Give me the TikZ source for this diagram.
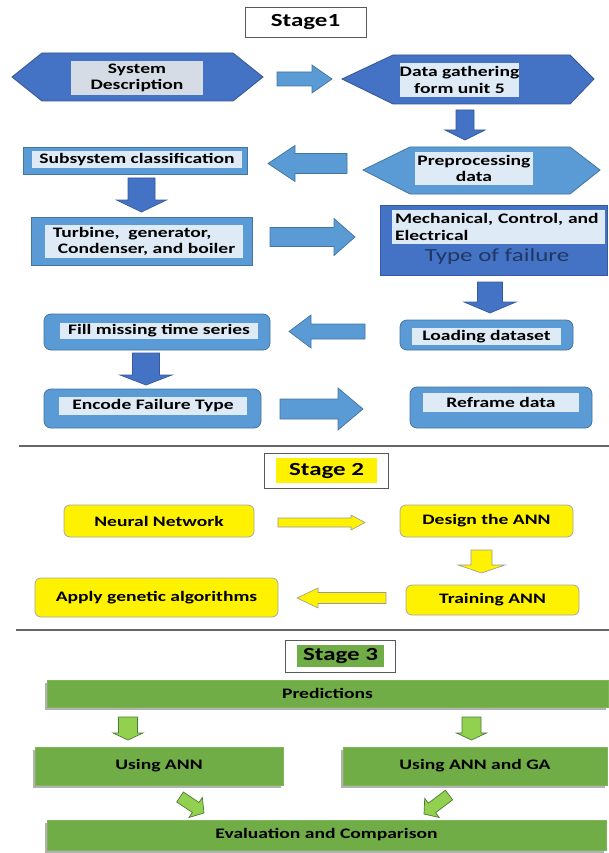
\documentclass[tikz,border=0pt]{standalone}
\usepackage{fontspec}
\setmainfont{Carlito}[FakeStretch=1.35]
\usetikzlibrary{calc,shadows}

\definecolor{hexdark}{HTML}{4472C4}
\definecolor{blight}{HTML}{5B9BD5}
\definecolor{boxin}{HTML}{DEEBF7}
\definecolor{sysin}{HTML}{D6DCE5}
\definecolor{navy}{HTML}{1F3864}
\definecolor{gbox}{HTML}{70AD47}
\definecolor{garrow}{HTML}{92D050}

% block arrow: start, end, shaft half width, head half width, head length, style
\newcommand{\barrow}[6]{%
  \coordinate (bA) at (#1);
  \coordinate (bB) at (#2);
  \coordinate (bH) at ($(bB)!#5pt!(bA)$);
  \draw[#6] ($(bA)!#3pt!90:(bB)$) -- ($(bH)!#3pt!-90:(bA)$) -- ($(bH)!#4pt!-90:(bA)$)
    -- (bB) -- ($(bH)!#4pt!90:(bA)$) -- ($(bH)!#3pt!90:(bA)$) -- ($(bA)!#3pt!-90:(bB)$) -- cycle;
}

\begin{document}
\begin{tikzpicture}
  [x=1pt,y=-1pt,
   every node/.style={inner sep=0pt,align=center,font=\bfseries\fontsize{14.5}{16.5}\selectfont},
   stage/.style={draw=black!65,fill=white,line width=0.9pt,font=\bfseries\fontsize{18.5}{20}\selectfont},
   inbox/.style={fill=boxin},
   bout/.style={fill=blight,draw=blight!75!black,line width=0.8pt},
   rbout/.style={bout,rounded corners=7pt},
   ybox/.style={fill=yellow,draw=black!35,line width=0.8pt,rounded corners=6pt},
   gnode/.style={fill=gbox,draw=gbox!90!white,drop shadow={shadow xshift=-2.5pt,shadow yshift=-2.5pt,fill=black!30,opacity=1}},
   barl/.style={fill=blight,draw=blight!75!black,line width=0.7pt},
   bard/.style={fill=hexdark,draw=hexdark!80!black,line width=0.7pt},
   yarr/.style={fill=yellow,draw=black!40,line width=0.6pt},
   garr/.style={fill=garrow,draw=gbox!70!black,line width=0.7pt},
   sepline/.style={draw=black!60,line width=1.2pt}]
  \useasboundingbox (0,0) rectangle (609,853);

  % stage 1
  \node[stage,minimum width=121pt,minimum height=30pt] (st1) at (305.5,22) {Stage1};

  \foreach \l/\tl/\tr/\r/\t/\m/\b/\c in {12/42/233/263/53/77/101/hexdark,
      342/393/570/594/55/79/104/hexdark, 363/410/570/600/147/170/194/blight}
    \filldraw[fill=\c,draw=\c!75!black,line width=0.8pt]
      (\l,\m) -- (\tl,\t) -- (\tr,\t) -- (\r,\m) -- (\tr,\b) -- (\tl,\b) -- cycle;

  \node[fill=sysin,minimum width=132pt,minimum height=34pt] (sysd) at (137,78) {System\\Description};
  \node[inbox,minimum width=115pt,minimum height=34pt] (datag) at (459.5,80) {Data gathering\\form unit 5};
  \node[inbox,minimum width=118pt,minimum height=33pt] (prep) at (474,168.5) {Preprocessing\\data};

  \node[bout,minimum width=224pt,minimum height=27pt] (subc) at (135,160.5) {};
  \node[inbox,minimum width=210pt,minimum height=17pt] (subc-t) at (137,159.5) {Subsystem classification};

  \node[bout,minimum width=221pt,minimum height=48pt] (turb) at (141.5,241) {};
  \node[inbox,minimum width=198pt,minimum height=33pt,align=left] (turb-t) at (144,241.5)
    {Turbine,\ \ generator,\\\hspace{5pt}Condenser, and boiler};

  \node[fill=hexdark,draw=hexdark!80!black,line width=0.8pt,minimum width=227pt,minimum height=70pt] (fail) at (493.5,240) {};
  \node[inbox,text width=207pt,inner sep=3pt,minimum height=34pt,align=left] (fail-t) at (498.5,227)
    {Mechanical, Control, and\\Electrical};
  \node[font=\fontsize{18.5}{20}\selectfont,text=navy] (fail-l) at (497,257) {Type of failure};

  \node[rbout,minimum width=173pt,minimum height=30pt] (load) at (486.5,335) {};
  \node[inbox,minimum width=149pt,minimum height=17pt] (load-t) at (486.5,336.5) {Loading dataset};
  \node[rbout,minimum width=226pt,minimum height=36pt] (fill) at (157,332) {};
  \node[inbox,minimum width=198pt,minimum height=16pt] (fill-t) at (159,330.5) {Fill missing time series};
  \node[rbout,minimum width=217pt,minimum height=39pt] (enc) at (152.5,408.5) {};
  \node[inbox,minimum width=188pt,minimum height=18pt] (enc-t) at (153,406) {Encode Failure Type};
  \node[rbout,minimum width=182pt,minimum height=41pt] (refr) at (501,407.5) {};
  \node[inbox,minimum width=156pt,minimum height=19pt] (refr-t) at (501,402.5) {Reframe data};

  \draw[sepline] (19,446) -- (609,446);

  % stage 2
  \node[stage,minimum width=124pt,minimum height=35pt] (st2) at (326,470.5) {};
  \node[fill=yellow,font=\bfseries\fontsize{18.5}{20}\selectfont,minimum width=101pt,minimum height=25pt] (st2-t) at (326.5,470.5) {Stage 2};
  \node[ybox,minimum width=190pt,minimum height=32pt] (nn) at (159,521) {Neural Network};
  \node[ybox,minimum width=173pt,minimum height=32pt] (dann) at (486.5,521) {Design the ANN};
  \node[ybox,minimum width=173pt,minimum height=30pt] (tann) at (492.5,600) {Training ANN};
  \node[ybox,minimum width=243pt,minimum height=39pt] (ga) at (156.5,597.5) {Apply genetic algorithms};

  \draw[sepline] (16,630) -- (609,630);

  % stage 3
  \node[stage,minimum width=110pt,minimum height=32pt] (st3) at (340,656) {};
  \node[fill=gbox,font=\bfseries\fontsize{18.5}{20}\selectfont,minimum width=87pt,minimum height=22pt] (st3-t) at (340.5,656) {Stage 3};
  \node[gnode,minimum width=561pt,minimum height=27pt] (pred) at (327.5,693.5) {Predictions};
  \node[gnode,minimum width=248pt,minimum height=38pt] (uann) at (159,766) {\raisebox{4pt}{Using ANN}};
  \node[gnode,minimum width=264pt,minimum height=38pt] (uga) at (475,766) {\raisebox{3pt}{Using ANN and GA}};
  \node[gnode,minimum width=559pt,minimum height=30pt] (eval) at (326.5,835) {Evaluation and Comparison};

  % block arrows
  \foreach \xa/\ya/\xb/\yb/\w/\h/\l/\s in {
      277/79/332/79/7/14/20/barl, 465/110/465/140/9/20/10/bard,
      347/163.5/268/163.5/10/18/27/barl, 141.5/178/141.5/212/13.5/25/12/bard,
      270/237/355/237/9.5/18.5/21/barl, 490/282/490/313/12.5/26/11/bard,
      365/331.5/289/331.5/7.5/16.5/22/barl, 146/353/146/385/13.5/26/10/bard,
      280/409/363/409/10/21/25/barl,
      278/522.5/365/522.5/4.5/7.5/14/yarr, 481.5/550/481.5/573/10.5/23.5/8/yarr,
      386/598/297/598/5.5/10/21/yarr,
      128/717/128/740/9.5/15/7/garr, 471.5/717/471.5/740/9.5/15/7/garr,
      180/797/204/813/6/12/10/garr, 449/795/424/814/6/12/10/garr}
    {\barrow{\xa,\ya}{\xb,\yb}{\w}{\h}{\l}{\s}}
\end{tikzpicture}
\end{document}
